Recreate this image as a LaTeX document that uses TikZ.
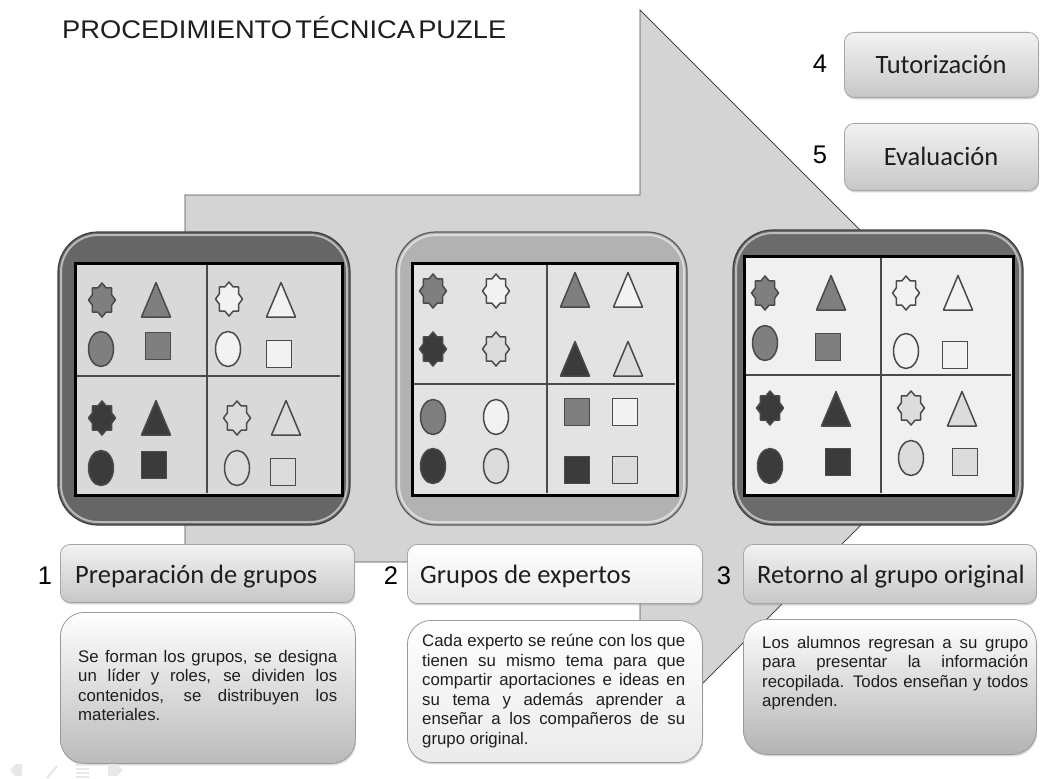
\documentclass[tikz,border=0pt]{standalone}
\usepackage{fontspec}
\usepackage{graphicx}
\setmainfont{Liberation Sans}
\newfontfamily\calib{Carlito}
\usetikzlibrary{shadows}
\definecolor{gm}{HTML}{7F7F7F}
\definecolor{gw}{HTML}{F2F2F2}
\definecolor{gd}{HTML}{3B3B3B}
\definecolor{gl}{HTML}{DCDCDC}
\definecolor{shline}{HTML}{4A4A4A}
\definecolor{txt}{HTML}{1E1E1E}
\newcommand\pzS[3]{\filldraw[shp, fill=#3, shift={(#1,#2)}] (0,-17) \foreach \k in {1,...,15}{ -- ({13.5*sin(22.5*\k)*(1-0.22*mod(\k,2))}, {-17*cos(22.5*\k)*(1-0.22*mod(\k,2))}) } -- cycle;}
\newcommand\pzT[3]{\filldraw[shp, fill=#3, shift={(#1,#2)}] (-14.5,17) -- (0,-17.5) -- (14.5,17) -- cycle;}
\newcommand\pzC[3]{\filldraw[shp, fill=#3] (#1,#2) ellipse [x radius=12.5, y radius=17.5];}
\newcommand\pzQ[3]{\filldraw[shp, fill=#3, shift={(#1,#2)}] (-12.5,-13.5) rectangle (12.5,13.5);}
\newcommand\pzPanel[9]{%
  \filldraw[fill=#5, draw=#6, line width=1.2, rounded corners=40] (#1,#2) rectangle (#3,#4);
  \draw[white, opacity=.55, line width=2, rounded corners=37] ({#1+3},{#2+3}) rectangle ({#3-3},{#4-3});
  \filldraw[fill=#7, draw=black, line width=3] #8;
  \draw[shline, line width=1.1] #9;
}
\begin{document}
\begin{tikzpicture}[x=1pt,y=-1pt,
  shp/.style={draw=shline, line width=1.5, line join=round},
  arrowbody/.style={fill=black!17, draw=black!70, line width=0.9},
  lbl/.style={draw=black!35, rounded corners=10, top color=black!5, bottom color=black!22, line width=0.8,
     drop shadow={shadow xshift=0.8pt, shadow yshift=-2pt, opacity=.35}},
  lblw/.style={lbl, top color=white, bottom color=black!8},
  tbox/.style={draw=black!40, rounded corners=24, top color=white, bottom color=#1, line width=0.8,
     drop shadow={shadow xshift=0.8pt, shadow yshift=-2pt, opacity=.3}},
  labeltext/.style={font=\calib\fontsize{26.5}{30}\selectfont, text=txt, inner sep=0},
  numtext/.style={font=\fontsize{25.5}{28}\selectfont, text=black, inner sep=0},
  body/.style={font=\fontsize{16.8}{19.5}\selectfont, text=txt, inner sep=0, align=left, anchor=north west},
]
\useasboundingbox (0,0) rectangle (1040,778);
\fill[white] (0,0) rectangle (1040,778);

% big bent arrow
\draw[arrowbody] (185,562) -- (185,195) -- (640,195) -- (640,10) -- (1008,378) -- (640,746) -- (640,562) -- cycle;

% title
\node[anchor=west, inner sep=0, font=\fontsize{25.5}{30}\selectfont, text=txt] (title) at (62,28)
  {\scalebox{1.07}[1]{PROCEDIMIENTO\hspace{3pt}TÉCNICA\hspace{3pt}PUZLE}};

% boxes 4 and 5
\node[lbl, minimum width=194, minimum height=65, anchor=north west] (b4) at (844,32) {};
\node[labeltext, anchor=base] (b4t) at (941,74) {Tutorización};
\node[numtext, anchor=base] (n4) at (820,73) {4};
\node[lbl, minimum width=194, minimum height=67, anchor=north west] (b5) at (844,123) {};
\node[labeltext, anchor=base] (b5t) at (941,166) {Evaluación};
\node[numtext, anchor=base] (n5) at (820,164) {5};

% panels
\pzPanel{58}{232}{350}{525}{black!60}{black!75}{black!15}{(75,263) rectangle (342,495)}{(207,265) -- (207,493) (77,376) -- (340,376)}
\pzS{102}{300}{gm} \pzT{156}{300}{gm} \pzC{101}{349}{gm} \pzQ{158}{346}{gm}
\pzS{229}{299}{gw} \pzT{281}{300}{gw} \pzC{228}{349}{gw} \pzQ{279}{354}{gw}
\pzS{102}{418}{gd} \pzT{156}{418}{gd} \pzC{101}{468}{gd} \pzQ{154}{465}{gd}
\pzS{237}{418}{gl} \pzT{286}{418}{gl} \pzC{237}{468}{gl} \pzQ{283}{472}{gl}

\pzPanel{396}{232}{687}{525}{black!30}{black!65}{black!11}{(412,263) rectangle (677,495)}{(547,265) -- (547,493) (414,384) -- (675,384)}
\pzS{433}{291}{gm} \pzS{496}{291}{gw} \pzS{433}{349}{gd} \pzS{496}{349}{gl}
\pzT{575}{290}{gm} \pzT{628}{290}{gw} \pzT{575}{359}{gd} \pzT{628}{359}{gl}
\pzC{433}{417}{gm} \pzC{496}{417}{gw} \pzC{433}{466}{gd} \pzC{496}{466}{gl}
\pzQ{577}{412}{gm} \pzQ{625}{412}{gw} \pzQ{577}{470}{gd} \pzQ{625}{470}{gl}

\pzPanel{733}{230}{1023}{525}{black!58}{black!75}{black!6}{(744,256) rectangle (1013,495)}{(881,258) -- (881,493) (746,375) -- (1011,375)}
\pzS{765}{293}{gm} \pzT{831}{293}{gm} \pzC{765}{343}{gm} \pzQ{828}{347}{gm}
\pzS{906}{293}{gw} \pzT{958}{293}{gw} \pzC{906}{351}{gw} \pzQ{955}{355}{gw}
\pzS{770}{408}{gd} \pzT{836}{409}{gd} \pzC{770}{466}{gd} \pzQ{838}{462}{gd}
\pzS{911}{408}{gl} \pzT{962}{409}{gl} \pzC{911}{458}{gl} \pzQ{965}{462}{gl}

% step label boxes
\node[lbl, minimum width=294, minimum height=58, anchor=north west] (b1) at (60,544) {};
\node[labeltext, anchor=base west] (b1t) at (75,583) {Preparación de grupos};
\node[numtext, anchor=base] (n1) at (45,584) {1};
\node[lblw, minimum width=295, minimum height=59, anchor=north west] (b2) at (407,544) {};
\node[labeltext, anchor=base west] (b2t) at (420,583) {Grupos de expertos};
\node[numtext, anchor=base] (n2) at (391,584) {2};
\node[lbl, minimum width=293, minimum height=59, anchor=north west] (b3) at (743,544) {};
\node[labeltext, anchor=base west] (b3t) at (757,583) {Retorno al grupo original};
\node[numtext, anchor=base] (n3) at (724,584) {3};

% description boxes
\node[tbox=black!27, minimum width=295, minimum height=151, anchor=north west] (t1) at (60,612) {};
\node[body] (t1x) at (78,650) {%
\makebox[259pt][s]{Se forman los grupos, se designa}\\
\makebox[259pt][s]{un líder y roles, se dividen los}\\
\makebox[259pt][s]{contenidos, se distribuyen los}\\
materiales.};
\node[tbox=black!8, minimum width=295, minimum height=142, anchor=north west] (t2) at (407,620) {};
\node[body] (t2x) at (422,634) {%
\makebox[263pt][s]{Cada experto se reúne con los que}\\
\makebox[263pt][s]{tienen su mismo tema para que}\\
\makebox[263pt][s]{compartir aportaciones e ideas en}\\
\makebox[263pt][s]{su tema y además aprender a}\\
\makebox[263pt][s]{enseñar a los compañeros de su}\\
grupo original.};
\node[tbox=black!30, minimum width=293, minimum height=135, anchor=north west] (t3) at (743,619) {};
\node[body] (t3x) at (762,636) {%
\makebox[266pt][s]{Los alumnos regresan a su grupo}\\
\makebox[266pt][s]{para presentar la información}\\
\makebox[266pt][s]{recopilada. Todos enseñan y todos}\\
aprenden.};

% faint slideshow controls
\fill[black!9] (22,764) -- (15,764) -- (10,770) -- (15,776) -- (22,776) -- cycle;
\draw[black!9, line width=2.5] (47,778) -- (57,766);
\draw[black!9, line width=1.5] (76,765) -- (89,765) (76,769) -- (89,769) (76,773) -- (89,773) (76,777) -- (89,777);
\fill[black!9] (108,764) -- (117,764) -- (123,770) -- (117,776) -- (108,776) -- cycle;
\end{tikzpicture}
\end{document}
